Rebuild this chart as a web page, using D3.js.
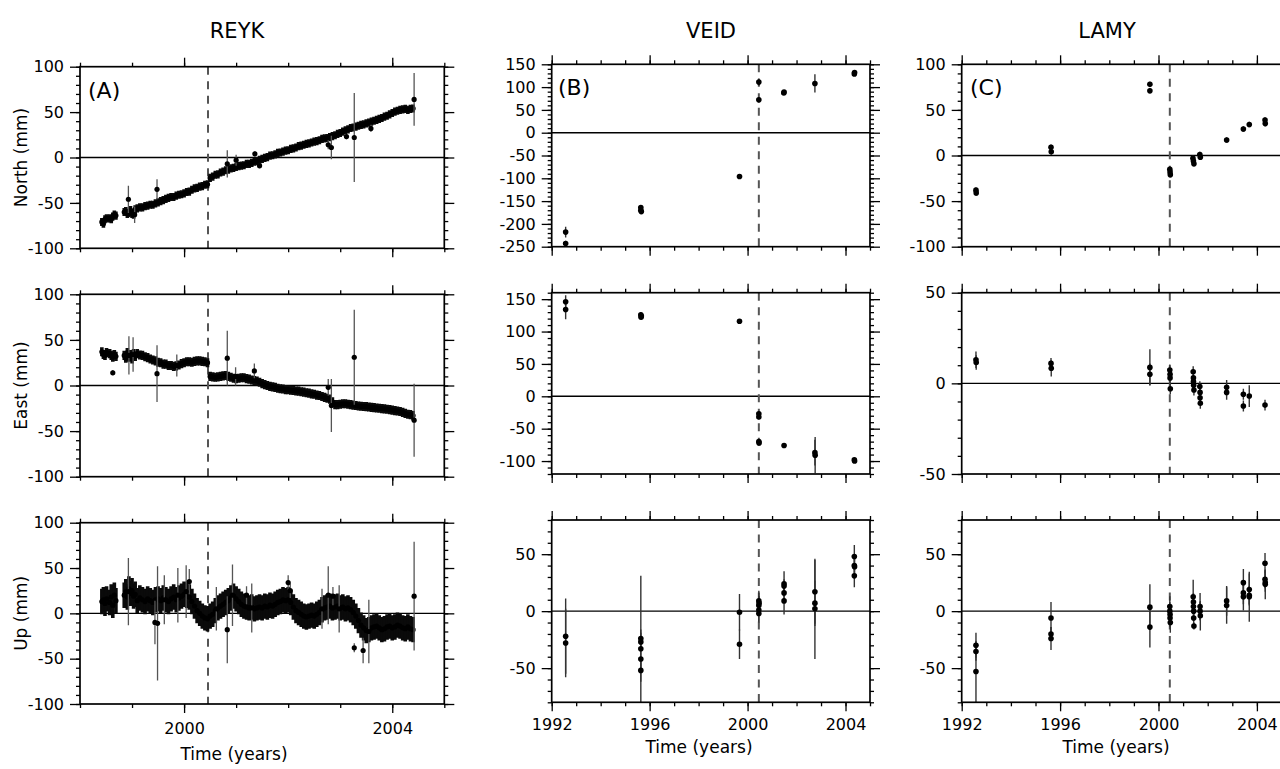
<!DOCTYPE html>
<html><head><meta charset="utf-8">
<script src="https://cdn.jsdelivr.net/npm/d3@7"></script>
<style>
body{margin:0;background:#fff;}
svg{display:block;}
</style></head><body>
<svg id="chart" width="1280" height="769"></svg>
<script>
// ---------------- DATA ----------------
const stations = ["REYK", "VEID", "LAMY"];
const panelLetters = ["(A)", "(B)", "(C)"];
const components = ["North (mm)", "East (mm)", "Up (mm)"];
const xAxisTitle = "Time (years)";
const coseismicYear = 2000.46;

// REYK continuous GPS (sampled read-off of the dense daily band)
const reykT = [1998.42,1998.45,1998.48,1998.51,1998.57,1998.60,1998.63,1998.66,1998.69,1998.85,1998.88,1998.91,1998.94,1998.97,1999.00,1999.03,1999.06,
1999.10,1999.15,1999.20,1999.25,1999.30,1999.35,1999.40,1999.45,1999.50,1999.55,1999.60,1999.65,1999.70,1999.75,1999.80,1999.85,1999.90,1999.95,
2000.00,2000.05,2000.10,2000.15,2000.20,2000.25,2000.30,2000.35,2000.40,2000.45,2000.50,2000.55,2000.60,2000.65,2000.70,2000.75,2000.80,2000.85,2000.90,2000.95,
2001.00,2001.05,2001.10,2001.15,2001.20,2001.25,2001.30,2001.35,2001.40,2001.45,2001.50,2001.55,2001.60,2001.65,2001.70,2001.75,2001.80,2001.85,2001.90,2001.95,
2002.00,2002.05,2002.10,2002.15,2002.20,2002.25,2002.30,2002.35,2002.40,2002.45,2002.50,2002.55,2002.60,2002.65,2002.70,2002.75,2002.80,2002.85,2002.90,2002.95,
2003.00,2003.05,2003.10,2003.15,2003.20,2003.25,2003.30,2003.35,2003.40,2003.45,2003.50,2003.55,2003.60,2003.65,2003.70,2003.75,2003.80,2003.85,2003.90,2003.95,
2004.00,2004.05,2004.10,2004.15,2004.20,2004.25,2004.30,2004.35,2004.40];
const reykN = [-71,-73,-68,-67,-67,-68,-65,-63,-64,-60,-59,-62,-61,-58,-62,-63,-57,
-56,-55,-55,-53.5,-53,-52,-52,-50.5,-49.5,-48,-47,-45.5,-44.5,-43.5,-43.5,-42,-41,-40.5,
-39.5,-38,-37.5,-35.5,-34,-33.5,-32,-31.5,-30,-29.5,-22.5,-21,-19,-18.5,-16.5,-15.5,-14,-13.5,-12,-11.5,
-10.5,-9.5,-9,-8.5,-7,-7,-6,-4.5,-4,-2.5,-1.5,-0.5,0.5,2,2.5,3.5,5,5.5,6.5,7.5,
8,9.5,10,11,12.5,13,14,15,15.5,16.5,17.5,18,19,20.5,21,21.5,22.5,23.5,24.5,26,
27,28.5,30,31,32.5,33,34,35,36,36.5,37.5,38.5,39.5,40.5,41.5,42.5,43.5,45,46,47.5,
49,50.5,51.5,52.5,53,53.5,52.5,53.5,54];
const reykE = [37,34,33,36,35,33,31,34,32,33,30,36,31,34,29,35,32,
35,33.5,33,31.5,30.5,29,28,27,25.5,25,23.5,23.5,22,22,21,21.5,22.5,24,
25,26,26,25.5,26.5,27,27,26.5,26,25,10,9.5,9,9.5,10,10.5,11,10,9,8,
7.5,8,8.5,8.5,7.5,7,6,5.5,5,3.5,2,1,0,-1,-1.5,-2,-3,-3.5,-3.8,-4.5,
-4.6,-5.2,-5.5,-6,-6.2,-6.8,-7.2,-8,-8.4,-9.2,-9.6,-10.5,-11,-12,-13,-14,-15,-18,-21,-21,
-20.5,-20,-20,-20.5,-21,-21.5,-22,-22.5,-22.8,-23,-23.2,-23.6,-24,-24.3,-24.6,-25,-25.3,-25.6,-26,-26.5,
-27,-27.5,-28,-28.5,-29.5,-30.5,-31.5,-32,-33];
const reykU = [13,15,11,16,12,18,9,20,14,20,24,18,27,22,25,19,21,
14,17,15,13,16,14,12,15,16,14,17,15,13,16,18,15,17,19,
21,20,18,13,8,3,0,-3,-5,-6,-3,-1,3,6,8,10,12,14,17,19,
16,13,10,8,7,6,7,5,6,7,6,8,7,9,8,10,12,13,15,14,
15,12,7,3,1,-1,-3,-4,-3,-2,-3,-1,1,4,6,7,8,6,7,8,
6,7,5,6,4,1,-3,-8,-13,-16,-19,-18,-16,-15,-14,-16,-18,-17,-15,-14,
-16,-15,-13,-14,-16,-17,-15,-17,-18];
const reykSigma = [4.5, 5, 14]; // N, E, U typical error (mm)

// REYK isolated points: [year, value, error]
const reykOutN = [[1998.93,-46,15],[1999.05,-63,9],[1999.48,-35,11],[2000.83,-7,15],[2001.00,-3,6],[2001.36,4,3],[2001.45,-9,3],[2002.77,14,5],[2002.83,11,13],[2003.12,23,3],[2003.27,22,49],[2003.59,32,4],[2004.42,64,29]];
const reykOutE = [[1998.63,14,3],[1998.94,33,21],[1999.02,34,19],[1999.48,13,31],[1999.86,22,12],[2000.83,30,30],[2000.99,10,10],[2001.35,16,8],[2002.77,-2,9],[2002.83,-22,29],[2003.27,31,52],[2004.42,-38,40]];
const reykOutU = [[1998.93,24,37],[1999.44,-10,24],[1999.49,-11,63],[1999.62,15,27],[1999.88,20,30],[2000.04,24,29],[2000.10,35,14],[2000.62,5,24],[2000.83,-18,37],[2000.93,20,34],[2001.20,20,10],[2001.30,6,27],[2002.00,34,8],[2002.04,25,8],[2002.65,5,22],[2002.77,20,32],[2002.86,19,10],[2002.98,5,26],[2003.27,-38,5],[2003.44,-41,14],[2003.55,-20,35],[2004.42,19,60]];

// VEID campaign GPS: [year, value, error]
const veidN = [[1992.57,-218,12],[1992.57,-243,6],[1995.64,-164,4],[1995.64,-170,4],[1995.66,-173,4],[1999.67,-96,3],[2000.46,111,8],[2000.46,72,6],[2001.48,87,3],[2001.49,89,3],[2002.75,108,20],[2004.36,129,3],[2004.37,132,3]];
const veidE = [[1992.57,146,10],[1992.57,134,15],[1995.64,126,4],[1995.65,122,3],[1995.66,124,5],[1999.67,116,2],[2000.46,-27,4],[2000.46,-32,4],[2000.46,-70,3],[2000.47,-72,3],[2001.49,-76,3],[2002.75,-87,20],[2002.76,-91,28],[2004.36,-98,3],[2004.37,-100,3]];
const veidU = [[1992.57,-22,33],[1992.57,-28,30],[1995.64,-24,8],[1995.64,-27,8],[1995.64,-33,64],[1995.64,-42,10],[1995.64,-52,10],[1999.67,-1,16],[1999.67,-29,13],
[2000.46,9,9],[2000.46,5,8],[2000.46,1,10],[2000.46,-2,8],[2000.47,7,6],[2001.49,24,11],[2001.49,22,6],[2001.49,16,8],[2001.49,9,12],
[2002.75,17,28],[2002.75,7,20],[2002.75,2,44],[2004.36,48,10],[2004.36,40,8],[2004.37,39,8],[2004.36,31,10]];

// LAMY campaign GPS: [year, value, error]
const lamyN = [[1992.58,-38,3],[1992.59,-41,3],[1995.63,9,3],[1995.64,4,3],[1999.65,78,3],[1999.65,71,3],[2000.46,-15,3],[2000.47,-18,3],[2000.48,-21,3],[2001.40,-3,3],[2001.42,-6,3],[2001.44,-9,3],[2001.68,1,3],[2001.70,-2,3],[2002.77,17,3],[2003.45,29,3],[2003.69,34,3],[2004.33,39,3],[2004.34,35,3]];
const lamyE = [[1992.58,13,4.5],[1992.59,11.5,4],[1995.63,11,3],[1995.64,8.3,4.5],[1999.65,8.8,10],[1999.65,5,6],[2000.46,7.4,3],[2000.47,5,3],[2000.47,3,3],[2000.48,-3,3],
[2001.41,6.4,3],[2001.42,3,3],[2001.42,1,3],[2001.43,-1,3],[2001.44,-3.7,3],[2001.68,-1.8,3],[2001.69,-5,3],[2001.69,-8,3],[2001.70,-11,3],
[2002.77,-2.2,4],[2002.77,-5,4],[2003.45,-6,3],[2003.45,-12.5,3],[2003.69,-7,6],[2004.33,-12,3]];
const lamyU = [[1992.58,-30,11],[1992.58,-35.5,8],[1992.58,-53,27],[1995.63,-6,14],[1995.63,-20,6],[1995.63,-24,10],[1999.65,3.5,20],[1999.65,-14,18],
[2000.46,4,9],[2000.46,0,8],[2000.47,-3,8],[2000.47,-6,8],[2000.48,-10,9],[2001.41,12.6,15],[2001.42,8,8],[2001.42,4,8],[2001.43,0,8],[2001.43,-6,8],[2001.44,-13,3],
[2001.69,4,12],[2001.69,0,8],[2001.70,-4,13],[2002.77,9,13],[2002.77,5,16],[2003.45,25,12],[2003.45,16,10],[2003.45,12.6,12],
[2003.69,19,14],[2003.69,14,8],[2003.69,12.6,22],[2004.33,42,9],[2004.33,28,8],[2004.34,25,8],[2004.34,23.5,13]];

// Axis tick values
const xMajorA = [2000, 2004];
const xMajorBC = [1992, 1996, 2000, 2004];
const yLabelsA = [-100, -50, 0, 50, 100];
const yLabelsB = [[-250,-200,-150,-100,-50,0,50,100,150], [-100,-50,0,50,100,150], [-50,0,50]];
const yLabelsC = [[-100,-50,0,50,100], [-50,0,50], [-50,0,50]];

// ---------------- LAYOUT ----------------
const FONT = '"DejaVu Sans", "Liberation Sans", sans-serif';
const svg = d3.select("#chart").style("font-family", FONT);

const cols = [
  {x0: 80, x1: 444.3, dom: [1998, 2005], major: xMajorA, titleX: 237, letterX: 88, xlabX: 234, xlabY: 760, tickPad: 10,
   rows: [[66.7, 248.3], [294.3, 476.7], [522.7, 704]], ydoms: [[-100,100],[-100,100],[-100,100]], ylabels: [yLabelsA, yLabelsA, yLabelsA]},
  {x0: 551.7, x1: 870, dom: [1992, 2005], major: xMajorBC, titleX: 711, letterX: 558, xlabX: 699, xlabY: 753, tickPad: 7,
   rows: [[64.3, 246.7], [292.7, 474], [520, 702.3]], ydoms: [[-250,150],[-120,160],[-80,80]], ylabels: yLabelsB},
  {x0: 961.7, x1: 1281.5, dom: [1992, 2005], major: xMajorBC, titleX: 1107, letterX: 970, xlabX: 1116, xlabY: 753, tickPad: 7,
   rows: [[64.3, 246.7], [292.7, 474], [520, 702.3]], ydoms: [[-100,100],[-50,50],[-80,80]], ylabels: yLabelsC}
];

const reykComp = [reykN, reykE, reykU];
const reykOut = [reykOutN, reykOutE, reykOutU];
const campaign = [null, [veidN, veidE, veidU], [lamyN, lamyE, lamyU]];

const defs = svg.append("defs");

function styleAxis(g) {
  g.select(".domain").remove();
  g.selectAll(".tick line").attr("stroke", "#000").attr("stroke-width", 1.3);
  g.selectAll(".tick text").attr("fill", "#000").style("font-family", FONT).style("font-size", "16px");
}

cols.forEach((c, ci) => {
  // station title
  svg.append("text").attr("x", c.titleX).attr("y", 38).attr("text-anchor", "middle")
    .style("font-size", "21px").text(stations[ci]);

  c.rows.forEach((r, ri) => {
    const [y0, y1] = r;
    const x = d3.scaleLinear().domain(c.dom).range([c.x0, c.x1]);
    const y = d3.scaleLinear().domain(c.ydoms[ri]).range([y1, y0]);
    const clipId = `clip${ci}${ri}`;
    defs.append("clipPath").attr("id", clipId).append("rect")
      .attr("x", c.x0).attr("y", y0).attr("width", c.x1 - c.x0).attr("height", y1 - y0);
    const g = svg.append("g");
    const dg = g.append("g").attr("clip-path", `url(#${clipId})`);

    // zero line
    dg.append("line").attr("x1", c.x0).attr("x2", c.x1).attr("y1", y(0)).attr("y2", y(0))
      .attr("stroke", "#000").attr("stroke-width", 1.4);
    // coseismic dashed line
    dg.append("line").attr("x1", x(coseismicYear)).attr("x2", x(coseismicYear)).attr("y1", y0).attr("y2", y1)
      .attr("stroke", "#555").attr("stroke-width", 2).attr("stroke-dasharray", "8,6.5");

    if (ci === 0) {
      const vals = reykComp[ri], sig = reykSigma[ri];
      const band = reykT.map((t, i) => ({t, v: vals[i]}));
      dg.append("g").selectAll("line").data(band).join("line")
        .attr("x1", d => x(d.t)).attr("x2", d => x(d.t))
        .attr("y1", d => y(d.v - sig)).attr("y2", d => y(d.v + sig))
        .attr("stroke", "#0a0a0a").attr("stroke-width", 3.6);
      dg.append("g").selectAll("circle").data(band).join("circle")
        .attr("cx", d => x(d.t)).attr("cy", d => y(d.v)).attr("r", 2.6).attr("fill", "#000");
      const out = reykOut[ri];
      dg.append("g").selectAll("line").data(out).join("line")
        .attr("x1", d => x(d[0])).attr("x2", d => x(d[0]))
        .attr("y1", d => y(d[1] - d[2])).attr("y2", d => y(d[1] + d[2]))
        .attr("stroke", "#555").attr("stroke-width", 1.3);
      dg.append("g").selectAll("circle").data(out).join("circle")
        .attr("cx", d => x(d[0])).attr("cy", d => y(d[1])).attr("r", 2.6).attr("fill", "#000");
    } else {
      const pts = campaign[ci][ri];
      dg.append("g").selectAll("line").data(pts).join("line")
        .attr("x1", d => x(d[0])).attr("x2", d => x(d[0]))
        .attr("y1", d => y(d[1] - d[2])).attr("y2", d => y(d[1] + d[2]))
        .attr("stroke", "#333").attr("stroke-width", 1.4);
      dg.append("g").selectAll("circle").data(pts).join("circle")
        .attr("cx", d => x(d[0])).attr("cy", d => y(d[1])).attr("r", 2.8).attr("fill", "#000");
    }

    // axes
    const years = d3.range(c.dom[0], c.dom[1] + 1);
    const yMinor = d3.range(Math.ceil(c.ydoms[ri][0] / 10) * 10, c.ydoms[ri][1] + 1, 10);
    const showX = ri === 2;
    g.append("g").attr("transform", `translate(0,${y1})`)
      .call(d3.axisBottom(x).tickValues(years).tickSize(4).tickFormat("")).call(styleAxis);
    g.append("g").attr("transform", `translate(0,${y1})`)
      .call(d3.axisBottom(x).tickValues(c.major).tickSize(9).tickPadding(c.tickPad)
        .tickFormat(d => showX ? String(d) : "")).call(styleAxis);
    g.append("g").attr("transform", `translate(0,${y0})`)
      .call(d3.axisTop(x).tickValues(years).tickSize(4).tickFormat("")).call(styleAxis);
    g.append("g").attr("transform", `translate(0,${y0})`)
      .call(d3.axisTop(x).tickValues(c.major).tickSize(9).tickFormat("")).call(styleAxis);
    g.append("g").attr("transform", `translate(${c.x0},0)`)
      .call(d3.axisLeft(y).tickValues(yMinor).tickSize(4).tickFormat("")).call(styleAxis);
    g.append("g").attr("transform", `translate(${c.x0},0)`)
      .call(d3.axisLeft(y).tickValues(c.ylabels[ri]).tickSize(10).tickPadding(6).tickFormat(d => String(d))).call(styleAxis);
    g.append("g").attr("transform", `translate(${c.x1},0)`)
      .call(d3.axisRight(y).tickValues(yMinor).tickSize(4).tickFormat("")).call(styleAxis);
    g.append("g").attr("transform", `translate(${c.x1},0)`)
      .call(d3.axisRight(y).tickValues(c.ylabels[ri]).tickSize(10).tickFormat("")).call(styleAxis);

    // frame
    g.append("rect").attr("x", c.x0).attr("y", y0).attr("width", c.x1 - c.x0).attr("height", y1 - y0)
      .attr("fill", "none").attr("stroke", "#000").attr("stroke-width", 1.7);

    // panel letter
    if (ri === 0) {
      g.append("text").attr("x", c.letterX).attr("y", y0 + 31).style("font-size", "22px").text(panelLetters[ci]);
    }
    // y-axis label (first column only)
    if (ci === 0) {
      svg.append("text").attr("transform", `translate(21,${(y0 + y1) / 2}) rotate(-90)`)
        .attr("text-anchor", "middle").attr("dominant-baseline", "central")
        .style("font-size", "17px").text(components[ri]);
    }
    if (showX) {
      svg.append("text").attr("x", c.xlabX).attr("y", c.xlabY).attr("text-anchor", "middle")
        .style("font-size", "17px").text(xAxisTitle);
    }
  });
});
</script>
</body></html>
